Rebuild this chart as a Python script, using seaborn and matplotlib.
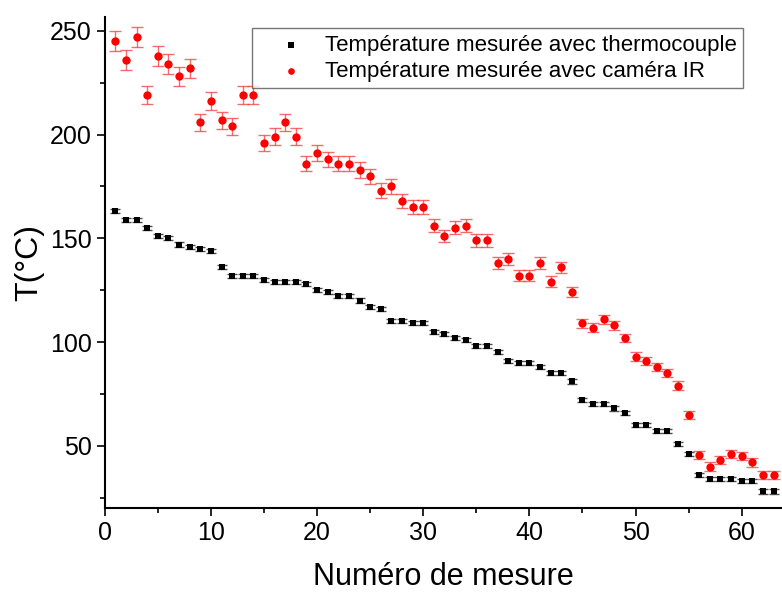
import numpy as np
import pandas as pd
import matplotlib
matplotlib.use("Agg")
import matplotlib.pyplot as plt
import seaborn as sns

# Measurement number
mesure = list(range(1, 64))

# Thermocouple temperatures (degC)
t_thermo = [163, 159, 159, 155, 151, 150, 147, 146, 145, 144,
            136, 132, 132, 132, 130, 129, 129, 129, 128, 125,
            124, 122, 122, 120, 117, 116, 110, 110, 109, 109,
            105, 104, 102, 101, 98, 98, 95, 91, 90, 90,
            88, 85, 85, 81, 72, 70, 70, 68, 66, 60,
            60, 57, 57, 51, 46, 36, 34, 34, 34, 33,
            33, 28, 28]
err_thermo = [1.0] * 63

# IR camera temperatures (degC)
t_ir = [245, 236, 247, 219, 238, 234, 228, 232, 206, 216,
        207, 204, 219, 219, 196, 199, 206, 199, 186, 191,
        188, 186, 186, 183, 180, 173, 175, 168, 165, 165,
        156, 151, 155, 156, 149, 149, 138, 140, 132, 132,
        138, 129, 136, 124, 109, 107, 111, 108, 102, 93,
        91, 88, 85, 79, 65, 45.5, 40, 43, 46, 45,
        42, 36, 36]
err_ir = [4.9, 4.7, 4.9, 4.4, 4.8, 4.7, 4.6, 4.6, 4.1, 4.3,
          4.1, 4.1, 4.4, 4.4, 3.9, 4.0, 4.1, 4.0, 3.7, 3.8,
          3.8, 3.7, 3.7, 3.7, 3.6, 3.5, 3.5, 3.4, 3.3, 3.3,
          3.1, 3.0, 3.1, 3.1, 3.0, 3.0, 2.8, 2.8, 2.6, 2.6,
          2.8, 2.6, 2.7, 2.5, 2.2, 2.1, 2.2, 2.2, 2.0, 2.0,
          2.0, 2.0, 2.0, 2.0, 2.0, 2.0, 2.0, 2.0, 2.0, 2.0,
          2.0, 2.0, 2.0]

label_thermo = "Température mesurée avec thermocouple"
label_ir = "Température mesurée avec caméra IR"

df = pd.DataFrame({"n": mesure, "thermo": t_thermo, "ir": t_ir,
                   "err_thermo": err_thermo, "err_ir": err_ir})

sns.set_style("ticks")
plt.rcParams['font.family'] = ['Liberation Sans', 'DejaVu Sans']
plt.rcParams['text.color'] = 'black'
plt.rcParams['axes.labelcolor'] = 'black'
plt.rcParams['xtick.color'] = 'black'
plt.rcParams['ytick.color'] = 'black'

fig = plt.figure(figsize=(7.82, 5.97), dpi=100)
ax = fig.add_axes([0.134, 0.149, 0.866, 0.822])

# error bars first, markers on top
ax.errorbar(df["n"], df["ir"], yerr=df["err_ir"], fmt="none",
            ecolor="#f03c3c", alpha=0.75, elinewidth=1.0, capsize=4, capthick=1.0)
ax.errorbar(df["n"], df["thermo"], yerr=df["err_thermo"], fmt="none",
            ecolor="black", alpha=0.7, elinewidth=1.0, capsize=3.5, capthick=1.0)

sns.scatterplot(data=df, x="n", y="thermo", ax=ax, marker="s", s=22,
                color="black", linewidth=0, label=label_thermo, zorder=3)
sns.scatterplot(data=df, x="n", y="ir", ax=ax, marker="o", s=36,
                color="#ff0000", linewidth=0, label=label_ir, zorder=3)

ax.set_xlim(0, 63.8)
ax.set_ylim(20, 256.5)
ax.set_xticks([0, 10, 20, 30, 40, 50, 60])
ax.set_xticks(np.arange(5, 64, 10), minor=True)
ax.set_yticks([50, 100, 150, 200, 250])
ax.set_yticks([25, 75, 125, 175, 225], minor=True)

ax.set_xlabel("Numéro de mesure", fontsize=22, labelpad=12)
ax.set_ylabel("T(°C)", fontsize=23, labelpad=4)
ax.tick_params(axis="both", which="major", labelsize=18, direction="out",
               length=6, width=1.2, color="black", labelcolor="black")
ax.tick_params(axis="both", which="minor", direction="out",
               length=3.5, width=1.2, color="black")

sns.despine(ax=ax)
for sp in ["left", "bottom"]:
    ax.spines[sp].set_linewidth(1.5)
    ax.spines[sp].set_color("black")

leg = ax.legend(loc="upper right", bbox_to_anchor=(0.959, 1.0), fontsize=16,
                frameon=True, fancybox=False, edgecolor="#555555",
                markerscale=0.8, handletextpad=0.1, borderpad=0.3,
                labelspacing=0.2, handlelength=2.85)
leg.get_frame().set_linewidth(1.0)

fig.savefig("out.png", dpi=100)
